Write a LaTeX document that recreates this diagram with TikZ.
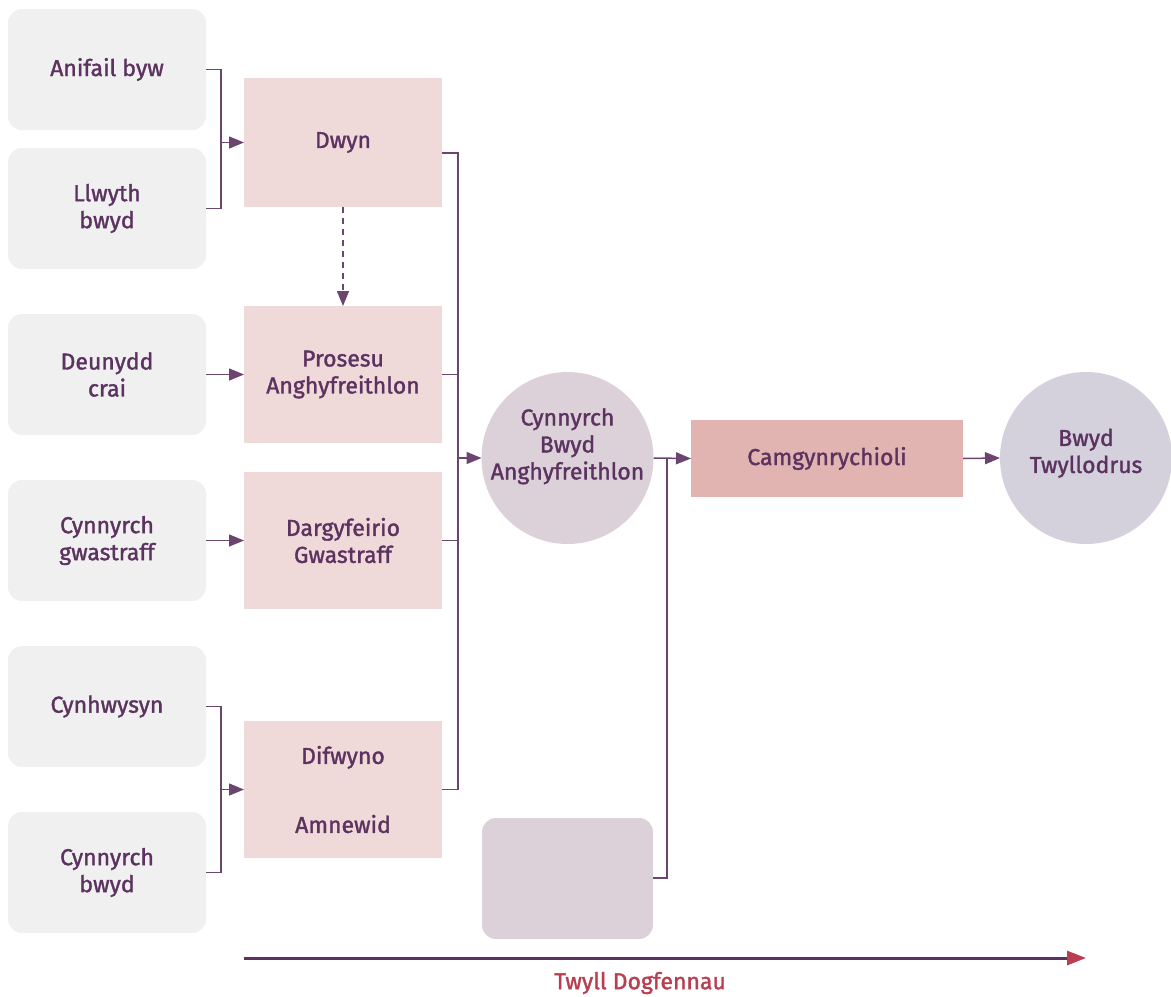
\documentclass[tikz,border=0pt]{standalone}
\usepackage{fontspec}
\setmainfont{Fira Sans}[FakeBold=1.5]
\usetikzlibrary{positioning, shapes, arrows.meta}
\definecolor{mypurple}{RGB}{92,51,96}
\definecolor{myline}{RGB}{107,68,112}
\definecolor{myred}{RGB}{184,62,80}
\definecolor{mygrey}{RGB}{240,240,240}
\definecolor{mypink}{RGB}{240,218,217}
\definecolor{myrose}{RGB}{225,180,177}
\definecolor{mymauve}{RGB}{220,209,217}
\definecolor{mylilac}{RGB}{212,208,220}
\newcommand{\liftup}[2]{\smash{\raisebox{#1}{\begin{tabular}{@{}c@{}}#2\end{tabular}}}}
\tikzset{
  source/.style={draw=none, fill=mygrey, rounded corners=7, inner sep=0, outer sep=0,
    minimum width=99, minimum height=60.5, text=mypurple, align=center,
    font=\fontsize{11.5}{13.5}\selectfont},
  crime/.style={draw=none, fill=mypink, inner sep=0, outer sep=0,
    minimum width=99, minimum height=68.5, text=mypurple, align=center,
    font=\fontsize{11.5}{13.5}\selectfont},
  blob/.style={circle, draw=none, fill=mymauve, inner sep=0, outer sep=0,
    minimum size=86, text=mypurple, align=center,
    font=\fontsize{11.5}{13.5}\selectfont},
  link/.style={draw=myline, line width=0.75},
  linkarrow/.style={link, -{Triangle[width=6,length=7.5]}}
}

\begin{document}
\begin{tikzpicture}[x=0.5pt, y=-0.5pt]
\useasboundingbox (0,0) rectangle (1171,996);

% sources
\node [source] (anifail) at (107,69.5) {Anifail byw};
\node [source] (llwyth) at (107,208.5) {Llwyth\\bwyd};
\node [source] (deunydd) at (107,374.5) {Deunydd\\crai};
\node [source] (gwastraff) at (107,540.5) {Cynnyrch\\gwastraff};
\node [source] (cynhwysyn) at (107,706.5) {Cynhwysyn};
\node [source] (cynbwyd) at (107,872.5) {Cynnyrch\\bwyd};

% crimes
\node [crime, minimum height=64.5] (dwyn) at (343,142.5) {Dwyn};
\node [crime] (prosesu) at (343,374.5) {Prosesu\\Anghyfreithlon};
\node [crime] (dargyfeirio) at (343,540.5) {Dargyfeirio\\Gwastraff};
\node [crime] (difwyno) at (343,789.5) {Difwyno\\[21pt]Amnewid};

% results
\node [blob] (cynnyrch) at (567.5,458) {\liftup{2.5pt}{Cynnyrch\\Bwyd\\Anghyfreithlon}};
\node [source, fill=mymauve, minimum width=85.5] (blank) at (567.5,878.5) {};
\node [crime, fill=myrose, minimum width=136, minimum height=38.5] (camgyn) at (827,458.5) {Camgynrychioli};
\node [blob, fill=mylilac] (twyllodrus) at (1086,458) {\liftup{-1pt}{Bwyd\\Twyllodrus}};

% joins
\coordinate (jtop) at (221,142.5);
\coordinate (jbot) at (221,789.5);
\coordinate (dwynout) at (442,153);
\coordinate (jmid) at (458,458);
\coordinate (jright) at (667,458);

\draw[link] (anifail.east) -| (jtop) |- (llwyth.east);
\draw[linkarrow] (jtop) -- (dwyn.west);
\draw[link] (cynhwysyn.east) -| (jbot) |- (cynbwyd.east);
\draw[linkarrow] (jbot) -- (difwyno.west);
\draw[linkarrow] (deunydd.east) -- (prosesu.west);
\draw[linkarrow] (gwastraff.east) -- (dargyfeirio.west);
\draw[linkarrow, dash pattern=on 3pt off 2.5pt] (dwyn.south) -- (prosesu.north);

\draw[link] (dwynout) -| (jmid);
\draw[link] (prosesu.east) -| (jmid);
\draw[link] (dargyfeirio.east) -| (jmid);
\draw[link] (difwyno.east) -| (jmid);
\draw[linkarrow] (jmid) -- (cynnyrch.west);

\draw[link] (blank.east |- 0,878) -| (jright);
\draw[linkarrow] (cynnyrch.east) -- (camgyn.west);
\draw[linkarrow] (camgyn.east) -- (twyllodrus.west);

% timeline
\coordinate (tstart) at (244,958);
\coordinate (tend) at (1086,958);
\draw[draw=mypurple, line width=1.5, -{Triangle[width=7,length=9.5,color=myred]}] (tstart) -- (tend);
\node [text=myred, font=\fontsize{11.5}{13.5}\selectfont] (twyll) at (640,983) {Twyll Dogfennau};

\end{tikzpicture}
\end{document}
